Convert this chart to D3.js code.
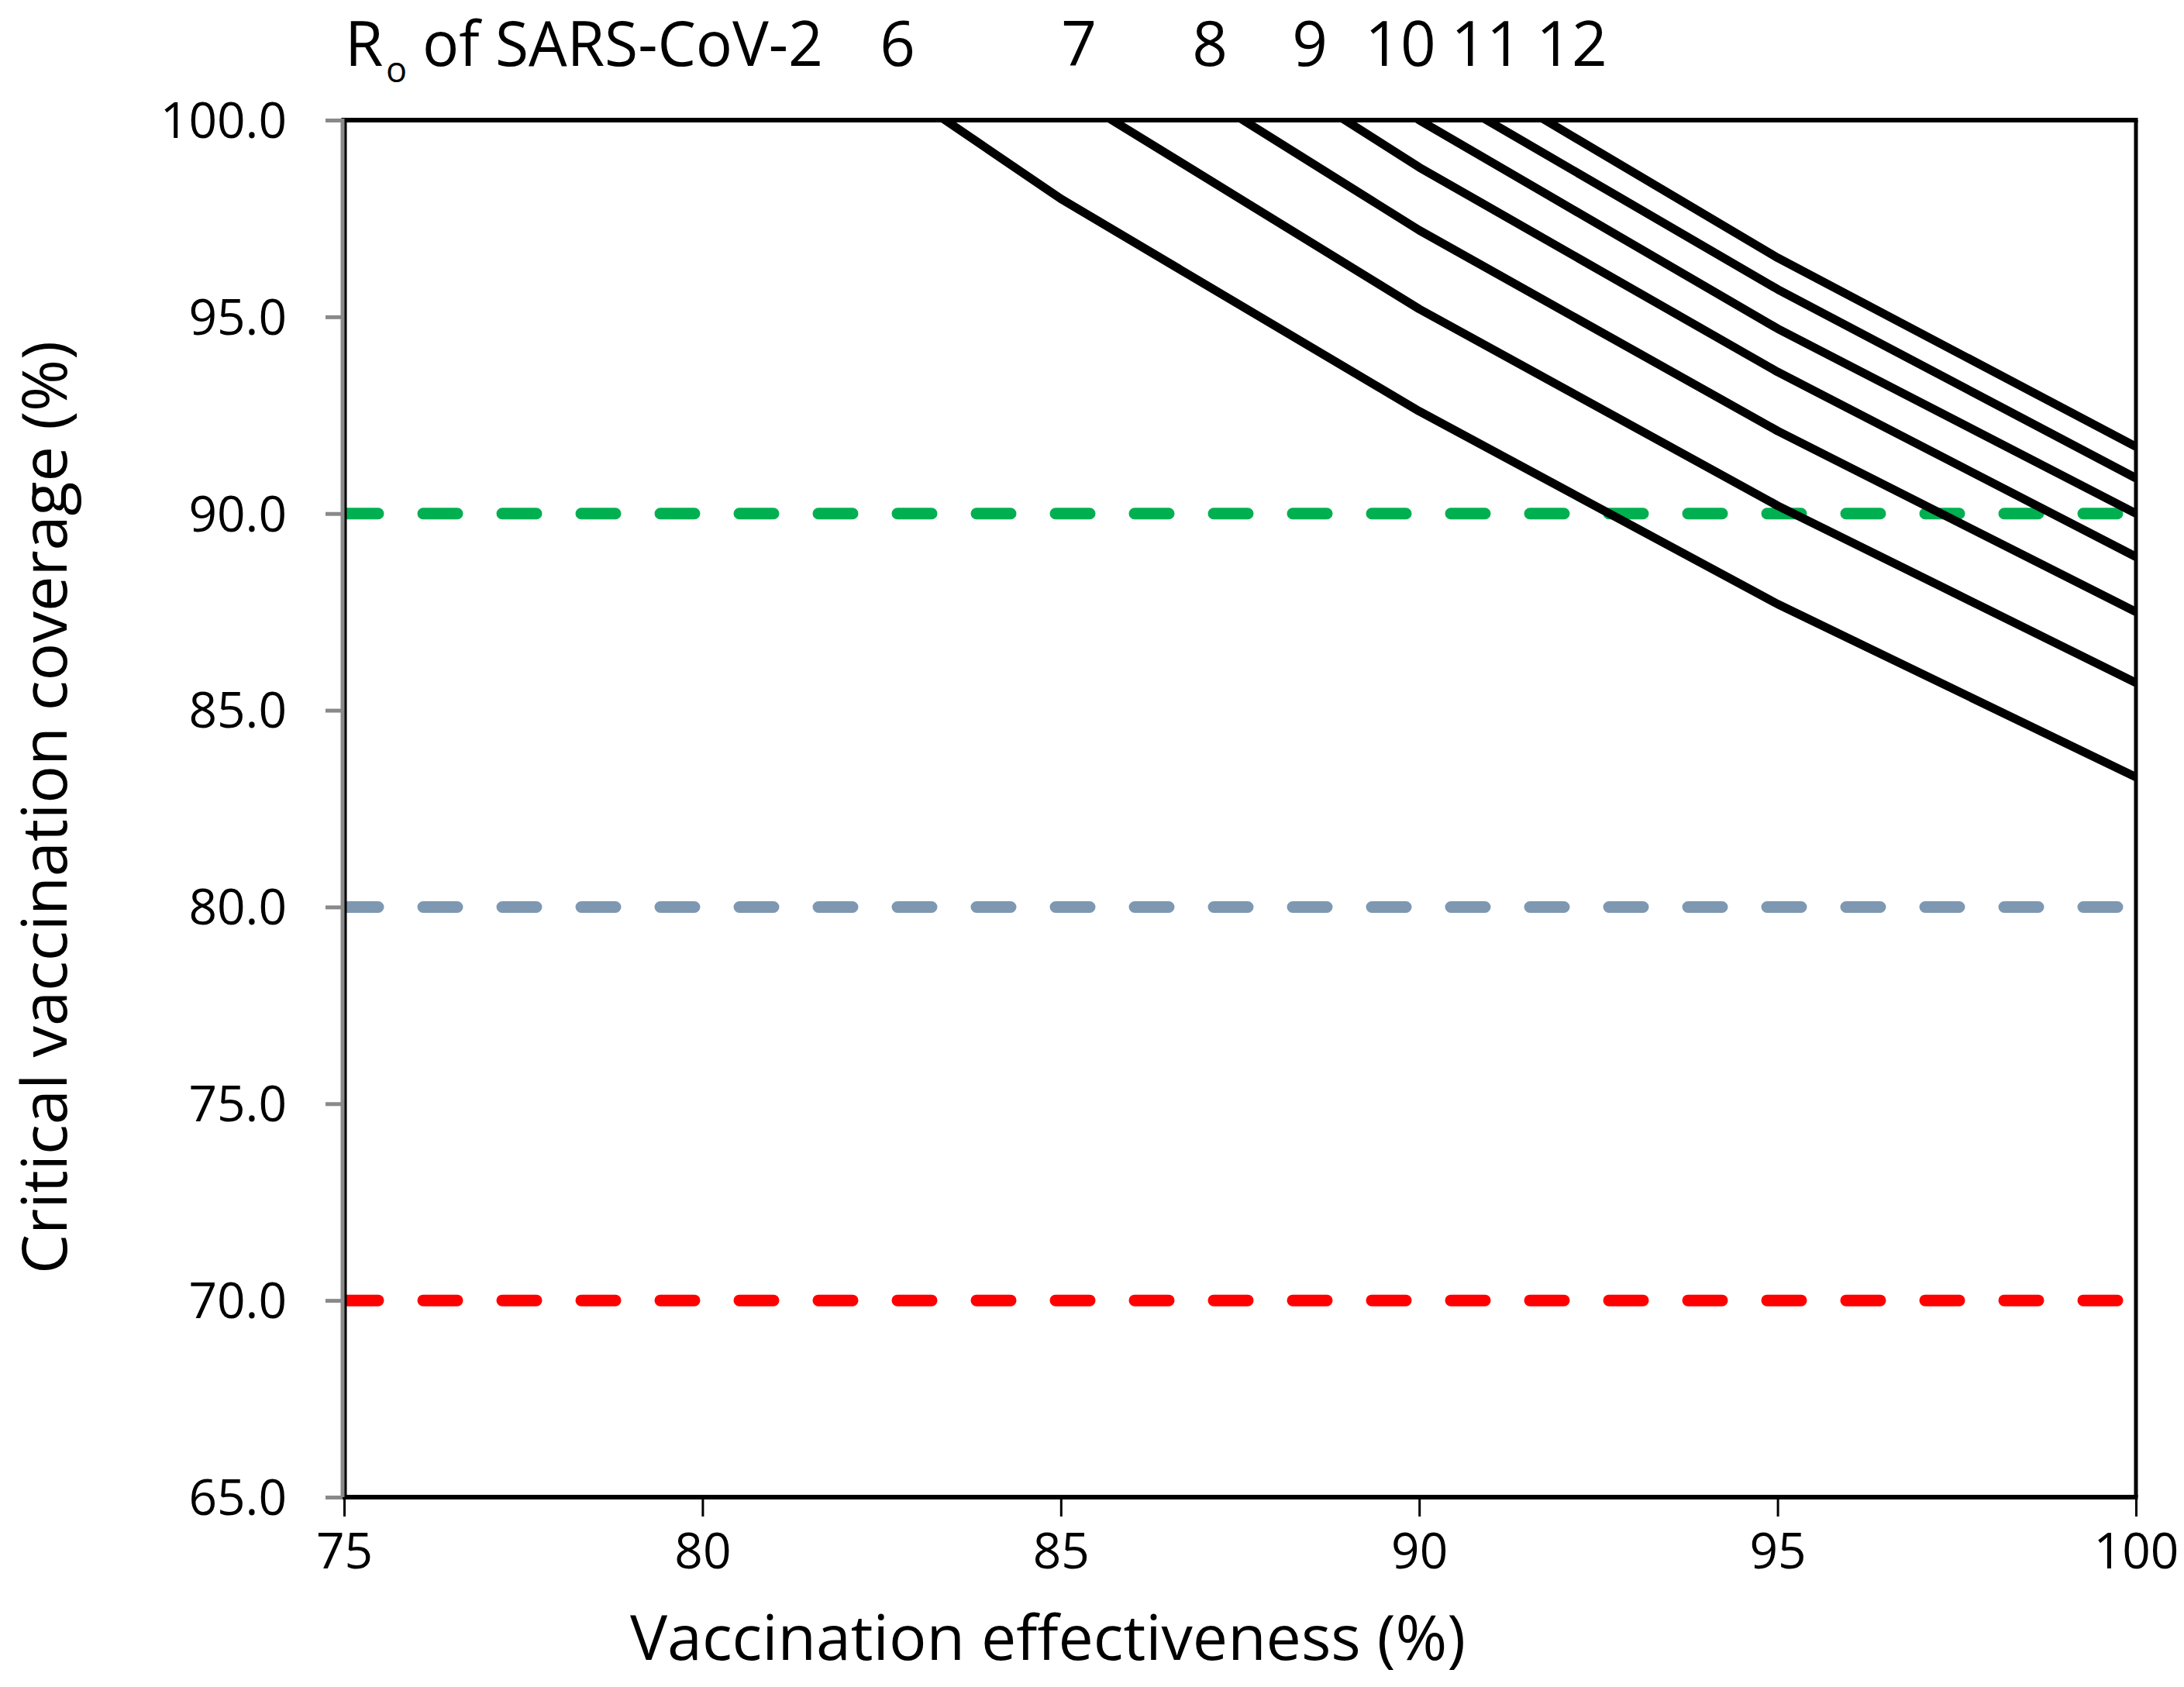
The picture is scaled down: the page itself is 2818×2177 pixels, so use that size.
<!DOCTYPE html>
<html>
<head>
<meta charset="utf-8">
<script src="https://cdn.jsdelivr.net/npm/d3@7"></script>
<style>
  html, body { margin: 0; padding: 0; background: #fff; }
  svg { display: block; font-family: "Open Sans", sans-serif; }
</style>
</head>
<body>
<svg id="chart" width="2818" height="2177"></svg>
<script>
// ---------- data ----------
const effectiveness = [80, 85, 90, 95, 100];          // x values (%)
const r0Labels = ["6", "7", "8", "9", "10", "11", "12"];
const coverageR6  = [104.2, 98.0, 92.6, 87.7, 83.3];
const coverageR7  = [107.1, 100.8, 95.2, 90.2, 85.7];
const coverageR8  = [109.4, 102.9, 97.2, 92.1, 87.5];
const coverageR9  = [111.1, 104.6, 98.8, 93.6, 88.9];
const coverageR10 = [112.5, 105.9, 100.0, 94.7, 90.0];
const coverageR11 = [113.6, 107.0, 101.0, 95.7, 90.9];
const coverageR12 = [114.6, 107.8, 101.9, 96.5, 91.7];
const thresholdValues = [90, 80, 70];
const xTickValues = [75, 80, 85, 90, 95, 100];
const yTickValues = [65, 70, 75, 80, 85, 90, 95, 100];
const xTitle = "Vaccination effectiveness (%)";
const yTitle = "Critical vaccination coverage (%)";

const seriesList = [coverageR6, coverageR7, coverageR8, coverageR9, coverageR10, coverageR11, coverageR12];

// ---------- layout ----------
const L = 444, R = 2756, T = 155, B = 1932;
const thresholdColors = ["#00B050", "#7E98B2", "#FF0000"];
const topLabelCenters = [1158, 1392, 1561, 1690, 1807, 1918, 2028];
const topBaseline = 85;

const svg = d3.select("#chart");
const x = d3.scaleLinear().domain([75, 100]).range([L, R]);
const y = d3.scaleLinear().domain([65, 100]).range([B, T]);

svg.append("defs").append("clipPath").attr("id", "plotclip")
  .append("rect").attr("x", L).attr("y", T).attr("width", R - L).attr("height", B - T);

const plot = svg.append("g").attr("clip-path", "url(#plotclip)");

// threshold dashed lines
thresholdValues.forEach((v, i) => {
  plot.append("line")
    .attr("x1", x(75)).attr("x2", x(100))
    .attr("y1", y(v)).attr("y2", y(v))
    .attr("stroke", thresholdColors[i])
    .attr("stroke-width", 15)
    .attr("stroke-linecap", "round")
    .attr("stroke-dasharray", "44 58");
});

// R0 curves
const line = d3.line().x((d, i) => x(effectiveness[i])).y(d => y(d));
seriesList.forEach(s => {
  plot.append("path")
    .attr("d", line(s))
    .attr("fill", "none")
    .attr("stroke", "#000")
    .attr("stroke-width", 11)
    .attr("stroke-linejoin", "round");
});

// plot border: top & right
svg.append("line").attr("x1", L).attr("x2", R + 2.5).attr("y1", T).attr("y2", T)
  .attr("stroke", "#000").attr("stroke-width", 6);
svg.append("line").attr("x1", R).attr("x2", R).attr("y1", T).attr("y2", B)
  .attr("stroke", "#000").attr("stroke-width", 5);

// x axis
const xAxis = d3.axisBottom(x).tickValues(xTickValues).tickSize(25).tickPadding(22)
  .tickFormat(d3.format("d"));
const gx = svg.append("g").attr("transform", `translate(0,${B})`).call(xAxis);
gx.select(".domain").remove();
gx.selectAll(".tick line").attr("stroke", "#000").attr("stroke-width", 3);
gx.selectAll(".tick text").attr("font-size", 64).attr("fill", "#000")
  .attr("font-family", "Open Sans, sans-serif");
svg.append("line").attr("x1", L - 2).attr("x2", R + 2.5).attr("y1", B).attr("y2", B)
  .attr("stroke", "#000").attr("stroke-width", 6);

// y axis
svg.append("line").attr("x1", L).attr("x2", L).attr("y1", T - 3).attr("y2", B)
  .attr("stroke", "#000").attr("stroke-width", 7);
const yAxis = d3.axisLeft(y).tickValues(yTickValues).tickSize(22).tickPadding(50)
  .tickFormat(d3.format(".1f"));
const gy = svg.append("g").attr("transform", `translate(${L - 2},0)`).call(yAxis);
gy.select(".domain").attr("stroke", "#898989").attr("stroke-width", 5)
  .attr("d", `M0,${T - 2}V${B}`);
gy.selectAll(".tick line").attr("stroke", "#898989").attr("stroke-width", 5);
gy.selectAll(".tick text").attr("font-size", 64).attr("fill", "#000")
  .attr("font-family", "Open Sans, sans-serif").attr("dy", "0.35em");

// axis titles
svg.append("text")
  .attr("x", 1352).attr("y", 2142)
  .attr("text-anchor", "middle")
  .attr("font-size", 80)
  .attr("textLength", 1078).attr("lengthAdjust", "spacingAndGlyphs")
  .text(xTitle);

svg.append("text")
  .attr("transform", "translate(86,1042) rotate(-90)")
  .attr("text-anchor", "middle")
  .attr("font-size", 80)
  .attr("textLength", 1204).attr("lengthAdjust", "spacingAndGlyphs")
  .text(yTitle);

// top R0 labels: "Ro of SARS-CoV-2" as one text element with a subscript
const rText = svg.append("text").attr("x", 445).attr("y", topBaseline).attr("font-size", 80);
rText.append("tspan").text("R");
rText.append("tspan").attr("x", 498).attr("dy", 21).attr("font-size", 45).text("o");
rText.append("tspan").attr("x", 545).attr("dy", -21).attr("font-size", 80)
  .attr("textLength", 517).attr("lengthAdjust", "spacingAndGlyphs")
  .text("of SARS-CoV-2");
r0Labels.forEach((lab, i) => {
  svg.append("text")
    .attr("x", topLabelCenters[i]).attr("y", topBaseline)
    .attr("text-anchor", "middle").attr("font-size", 80)
    .text(lab);
});
</script>
</body>
</html>
